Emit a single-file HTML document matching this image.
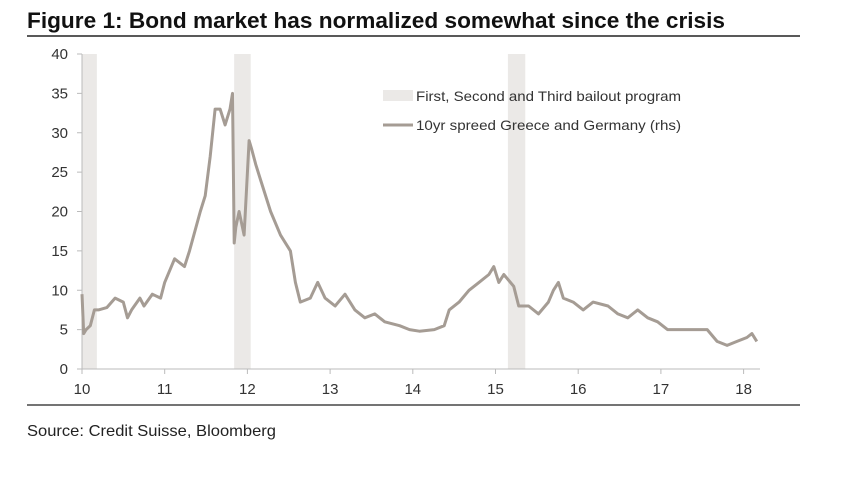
<!DOCTYPE html>
<html><head><meta charset="utf-8"><style>
body{margin:0;background:#fff;width:855px;height:482px;overflow:hidden;font-family:"Liberation Sans",Arial,sans-serif;}
svg text{font-family:"Liberation Sans",Arial,sans-serif;}
</style></head><body>
<svg width="855" height="482">
<text x="27" y="28" font-size="22" font-weight="bold" fill="#111" textLength="698" lengthAdjust="spacingAndGlyphs">Figure 1: Bond market has normalized somewhat since the crisis</text>
<line x1="27" y1="36" x2="800" y2="36" stroke="#222" stroke-width="1.5"/>
<g id="bands"></g>
<g id="axes"></g>
<path id="series" fill="none" stroke="#a59c94" stroke-width="3" stroke-linejoin="round"/>
<g>
<rect x="383" y="90" width="30" height="11" fill="#ebe9e7"/>
<text x="416" y="101" font-size="14" fill="#333" textLength="265" lengthAdjust="spacingAndGlyphs">First, Second and Third bailout program</text>
<line x1="383" y1="125" x2="413" y2="125" stroke="#a59c94" stroke-width="3"/>
<text x="416" y="130" font-size="14" fill="#333" textLength="265" lengthAdjust="spacingAndGlyphs">10yr spreed Greece and Germany (rhs)</text>
</g>
<line x1="27" y1="405" x2="800" y2="405" stroke="#222" stroke-width="1.2"/>
<text x="27" y="436" font-size="16" fill="#222" textLength="249" lengthAdjust="spacingAndGlyphs">Source: Credit Suisse, Bloomberg</text>
</svg>
<script>
const years=[2010.0,2010.02,2010.05,2010.1,2010.15,2010.2,2010.3,2010.4,2010.5,2010.55,2010.6,2010.7,2010.75,2010.85,2010.95,2011.0,2011.12,2011.24,2011.3,2011.43,2011.49,2011.55,2011.61,2011.67,2011.73,2011.79,2011.82,2011.84,2011.86,2011.9,2011.96,2012.02,2012.05,2012.1,2012.16,2012.28,2012.4,2012.52,2012.58,2012.64,2012.76,2012.85,2012.94,2013.06,2013.18,2013.3,2013.42,2013.54,2013.66,2013.84,2013.96,2014.08,2014.26,2014.38,2014.44,2014.56,2014.68,2014.8,2014.92,2014.98,2015.04,2015.1,2015.22,2015.28,2015.4,2015.52,2015.64,2015.7,2015.76,2015.82,2015.94,2016.06,2016.18,2016.36,2016.48,2016.6,2016.72,2016.84,2016.96,2017.08,2017.32,2017.44,2017.56,2017.68,2017.8,2017.92,2018.04,2018.1,2018.16];
const spread=[9.5,4.5,5,5.5,7.5,7.5,7.8,9,8.5,6.5,7.5,9,8,9.5,9,11,14,13,15,20,22,27,33,33,31,33,35,16,18,20,17,29,28,26,24,20,17,15,11,8.5,9,11,9,8,9.5,7.5,6.5,7,6,5.5,5,4.8,5,5.5,7.5,8.5,10,11,12,13,11,12,10.5,8,8,7,8.5,10,11,9,8.5,7.5,8.5,8,7,6.5,7.5,6.5,6,5,5,5,5,3.5,3,3.5,4,4.5,3.5];
const bandStarts=[2010.0,2011.84,2015.15];
const bandEnds=[2010.18,2012.04,2015.36];
const yTicks=[0,5,10,15,20,25,30,35,40];
const xTicks=[10,11,12,13,14,15,16,17,18];
const X=y=>82+(y-2010)*82.7;
const Y=v=>369-v*7.875;
const NS='http://www.w3.org/2000/svg';
const bands=document.getElementById('bands');
bandStarts.forEach((s,i)=>{const r=document.createElementNS(NS,'rect');
r.setAttribute('x',X(s));r.setAttribute('y',Y(40));r.setAttribute('width',X(bandEnds[i])-X(s));r.setAttribute('height',Y(0)-Y(40));r.setAttribute('fill','#ebe9e7');


bands.appendChild(r);});
const ax=document.getElementById('axes');
function el(t,a){const e=document.createElementNS(NS,t);for(const k in a)e.setAttribute(k,a[k]);ax.appendChild(e);return e;}
const ya=el('line',{x1:82,y1:Y(40),x2:82,y2:Y(0),stroke:'#bbb'});


const xa=el('line',{x1:82,y1:Y(0),x2:760,y2:Y(0),stroke:'#bbb'});


yTicks.forEach(v=>{el('line',{x1:77,y1:Y(v),x2:82,y2:Y(v),stroke:'#bbb'});
const t=el('text',{x:68,y:Y(v)+5,'font-size':15,fill:'#333','text-anchor':'end'});t.textContent=v;

});
xTicks.forEach(v=>{const x=X(2000+v);el('line',{x1:x,y1:Y(0),x2:x,y2:Y(0)+5,stroke:'#bbb'});
const t=el('text',{x:x,y:Y(0)+25,'font-size':15,fill:'#333','text-anchor':'middle'});t.textContent=v;

});
document.getElementById('series').setAttribute('d',years.map((y,i)=>(i?'L':'M')+X(y).toFixed(1)+','+Y(spread[i]).toFixed(1)).join(''));
</script>
</body></html>
